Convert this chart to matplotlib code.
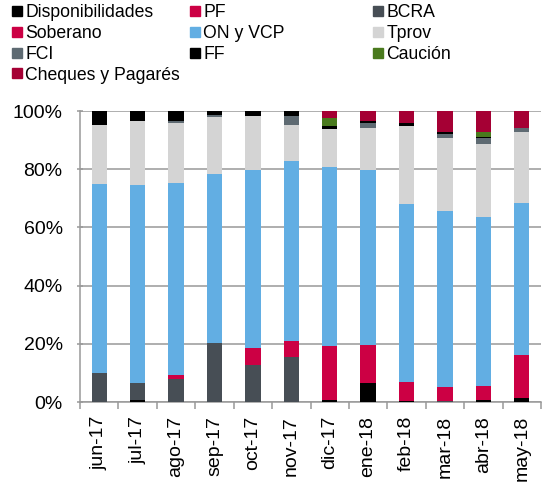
import matplotlib
matplotlib.use("Agg")
import matplotlib.pyplot as plt
from matplotlib.lines import Line2D
from matplotlib.ticker import FuncFormatter
import numpy as np

plt.rcParams['font.family'] = ['Liberation Sans', 'DejaVu Sans']

categories = ["jun-17", "jul-17", "ago-17", "sep-17", "oct-17", "nov-17",
              "dic-17", "ene-18", "feb-18", "mar-18", "abr-18", "may-18"]

# shares in percent, stacked bottom -> top in this order
disponibilidades = [0.0, 0.6, 0.0, 0.0, 0.0, 0.0, 0.8, 6.5, 0.3, 0.0, 0.7, 1.4]
pf               = [0.0, 0.0, 0.0, 0.0, 0.0, 0.0, 0.0, 0.0, 0.0, 0.0, 0.0, 0.0]
bcra             = [9.8, 5.9, 7.9, 20.3, 12.8, 15.6, 0.0, 0.0, 0.0, 0.5, 0.0, 0.0]
soberano         = [0.0, 0.0, 1.4, 0.0, 5.7, 5.5, 18.5, 13.1, 6.6, 4.7, 4.8, 14.7]
on_vcp           = [65.0, 68.0, 66.0, 58.0, 61.2, 61.7, 61.5, 60.1, 61.3, 60.4, 58.1, 52.4]
tprov            = [20.4, 22.1, 20.7, 19.8, 18.6, 12.4, 13.1, 14.3, 26.8, 25.2, 25.0, 24.4]
fci              = [0.0, 0.0, 0.7, 0.5, 0.0, 3.2, 0.0, 2.0, 0.0, 1.4, 2.2, 1.1]
ff               = [4.8, 3.4, 3.3, 1.4, 1.7, 1.6, 0.9, 0.7, 0.9, 0.7, 0.4, 0.0]
caucion          = [0.0, 0.0, 0.0, 0.0, 0.0, 0.0, 2.9, 0.0, 0.0, 0.0, 1.7, 0.0]
cheques          = [0.0, 0.0, 0.0, 0.0, 0.0, 0.0, 2.3, 3.3, 4.1, 7.1, 7.1, 6.0]

series = [
    ("Disponibilidades", disponibilidades, "#000000"),
    ("PF", pf, "#CC0044"),
    ("BCRA", bcra, "#474E55"),
    ("Soberano", soberano, "#CC0044"),
    ("ON y VCP", on_vcp, "#62AEE3"),
    ("Tprov", tprov, "#D4D4D4"),
    ("FCI", fci, "#5E6A72"),
    ("FF", ff, "#000000"),
    ("Caución", caucion, "#4A7A1E"),
    ("Cheques y Pagarés", cheques, "#A50034"),
]

fig = plt.figure(figsize=(5.43, 4.86), dpi=100)
ax = fig.add_axes([80/543, (486-402)/486, (541-80)/543, (402-111)/486])

x = np.arange(len(categories))
bottom = np.zeros(len(categories))
for name, vals, col in series:
    v = np.array(vals) / 100.0
    ax.bar(x, v, width=0.4, bottom=bottom, color=col, linewidth=0, zorder=3)
    bottom += v

ax.set_xlim(-0.5, len(categories) - 0.5)
ax.set_ylim(0, 1.0)
ax.set_yticks(np.arange(0, 1.01, 0.2))
ax.yaxis.set_major_formatter(FuncFormatter(lambda v, p: f"{v*100:.0f}%"))
ax.grid(axis='y', color='#999999', linewidth=1.1, zorder=0)
ax.set_axisbelow(True)

ax.set_xticks(x)
ax.set_xticklabels(categories, rotation=90, fontsize=14)
ax.set_xticks(np.arange(-0.5, len(categories), 1.0), minor=True)
ax.tick_params(axis='x', which='major', length=0, pad=10)
ax.tick_params(axis='x', which='minor', length=5, color='#999999', width=1.1)
ax.tick_params(axis='y', length=5, direction='inout', color='#999999', width=1.1,
               labelsize=14, pad=10)

for s in ['top', 'right']:
    ax.spines[s].set_visible(False)
for s in ['left', 'bottom']:
    ax.spines[s].set_color('#999999')
    ax.spines[s].set_linewidth(1.1)

def handle(col):
    return Line2D([], [], marker='s', linestyle='', markersize=6.5,
                  markerfacecolor=col, markeredgecolor=col)

lookup = {n: c for n, _, c in series}
columns = [
    (["Disponibilidades", "Soberano", "FCI", "Cheques y Pagarés"], 12),
    (["PF", "ON y VCP", "FF"], 190),
    (["BCRA", "Tprov", "Caución"], 373),
]
for names, xpx in columns:
    leg = fig.legend([handle(lookup[n]) for n in names], names,
                     loc='upper left', bbox_to_anchor=(xpx/543, 1.0 - 4/486),
                     frameon=False, fontsize=12.7, handlelength=0.6,
                     handletextpad=0.15, labelspacing=0.22, borderpad=0,
                     borderaxespad=0)

fig.savefig("out.png", dpi=100)
